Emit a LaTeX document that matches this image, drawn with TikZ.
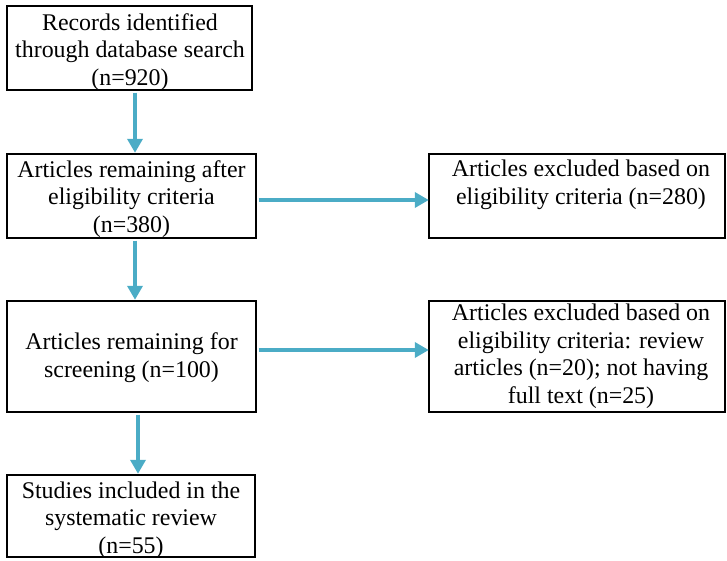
\documentclass[tikz,border=0pt]{standalone}
\usepackage{fontspec}
\setmainfont{Liberation Serif}
\usetikzlibrary{arrows.meta}
\definecolor{arrowc}{RGB}{75,172,198}
\tikzset{
  box/.style={draw=black, line width=2.6pt, fill=white},
  txt/.style={align=center, inner sep=0pt, anchor=base, font=\fontsize{23.9}{27.4}\selectfont},
  arr/.style={draw=arrowc, line width=4pt, -{Triangle[length=14pt,width=15pt]}, shorten <=1pt}
}
\begin{document}
\begin{tikzpicture}[x=1pt,y=-1pt]
\useasboundingbox (0,0) rectangle (727,560);
% boxes
\path[box] (7,6) rectangle (252,90);
\path[box] (7,154) rectangle (256,238);
\path[box] (429,154) rectangle (725,238);
\path[box] (7,301) rectangle (256,412);
\path[box] (429,301) rectangle (725,412);
\path[box] (7,475) rectangle (255,557);
% invisible named nodes for connectors
\node[minimum width=245pt, minimum height=84pt, inner sep=0pt] (b1) at (129.5,48) {};
\node[minimum width=249pt, minimum height=84pt, inner sep=0pt] (b2) at (131.5,196) {};
\node[minimum width=296pt, minimum height=84pt, inner sep=0pt] (b3) at (577,196) {};
\node[minimum width=249pt, minimum height=111pt, inner sep=0pt] (b4) at (131.5,356.5) {};
\node[minimum width=296pt, minimum height=111pt, inner sep=0pt] (b5) at (577,356.5) {};
\node[minimum width=248pt, minimum height=82pt, inner sep=0pt] (b6) at (131,516) {};
% texts (anchor base = last line's baseline)
\node[txt] (t1) at (130,85) {Records identified\\through database search\\(n=920)};
\node[txt] (t2) at (131.5,232) {Articles remaining after\\eligibility criteria\\(n=380)};
\node[txt] (t3) at (581,204) {Articles excluded based on\\eligibility criteria (n=280)};
\node[txt] (t4) at (131.5,377) {Articles remaining for\\screening (n=100)};
\node[txt] (t5) at (581,403) {Articles excluded based on\\eligibility criteria: review\\articles (n=20); not having\\full text (n=25)};
\node[txt] (t6) at (131,553) {Studies included in the\\systematic review\\(n=55)};
% connectors
\draw[arr] ([xshift=5.5pt,yshift=-1.5pt]b1.south) -- ([xshift=3.5pt,yshift=1pt]b2.north);
\draw[arr] ([xshift=3.5pt,yshift=-1.5pt]b2.south) -- ([xshift=3.5pt,yshift=1pt]b4.north);
\draw[arr] ([xshift=6.5pt,yshift=-1.5pt]b4.south) -- ([xshift=7pt,yshift=1pt]b6.north);
\draw[arr] ([xshift=1.5pt,yshift=-4pt]b2.east) coordinate (h1) -- (h1 -| b3.west);
\draw[arr] ([xshift=1.5pt,yshift=6.5pt]b4.east) coordinate (h2) -- (h2 -| b5.west);
\end{tikzpicture}
\end{document}
